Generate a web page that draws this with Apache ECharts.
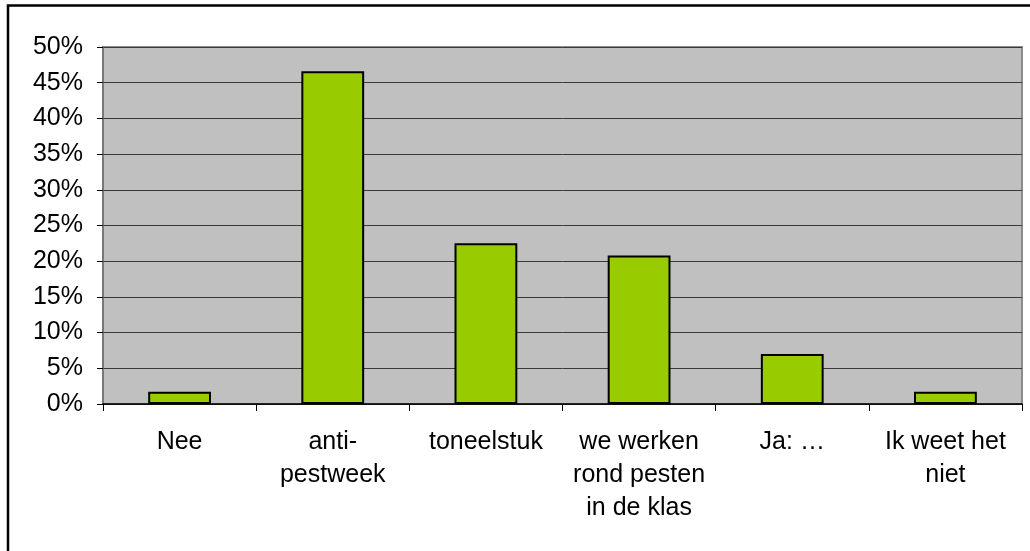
<!DOCTYPE html>
<html>
<head>
<meta charset="utf-8">
<script src="https://cdn.jsdelivr.net/npm/echarts@6/dist/echarts.min.js"></script>
<style>
  html, body { margin: 0; padding: 0; background: #fff; }
  #chart { width: 1030px; height: 551px; }
</style>
</head>
<body>
<div id="chart"></div>
<script>
var categories = ['Nee', 'anti-\npestweek', 'toneelstuk', 'we werken\nrond pesten\nin de klas', 'Ja: \u2026', 'Ik weet het\nniet'];
var values = [1.7, 46.6, 22.5, 20.8, 7.0, 1.7];
var yTicks = [0, 5, 10, 15, 20, 25, 30, 35, 40, 45, 50];

var myChart = echarts.init(document.getElementById('chart'));
var option = {
    animation: false,
    textStyle: { fontFamily: 'Liberation Sans, Arial, sans-serif' },
    // outer frame: only top and left edges are visible in the picture
    graphic: [{
        type: 'polyline',
        shape: { points: [[8, 551], [8, 5.5], [1030, 5.5]] },
        style: { fill: 'none', stroke: '#000', lineWidth: 2.5 },
        silent: true
    }],
    grid: {
        left: 103, right: 8, top: 47, bottom: 147,
        show: true,
        backgroundColor: '#c0c0c0',
        borderColor: '#8c8c8c',
        borderWidth: 2
    },
    xAxis: {
        type: 'category',
        data: categories,
        axisLine: { lineStyle: { color: '#000', width: 1.5 } },
        axisTick: { show: true, length: 7, lineStyle: { color: '#000' } },
        axisLabel: { color: '#000', fontSize: 25, lineHeight: 33, margin: 22, interval: 0 },
        splitLine: { show: false }
    },
    yAxis: {
        type: 'value',
        min: yTicks[0],
        max: yTicks[yTicks.length - 1],
        interval: 5,
        axisLine: { show: true, lineStyle: { color: '#707070', width: 1.5 } },
        axisTick: { show: true, length: 6, lineStyle: { color: '#000' } },
        axisLabel: { color: '#000', fontSize: 25, margin: 20, formatter: '{value}%' },
        splitLine: { lineStyle: { color: '#3a3a3a', width: 1 } }
    },
    series: [{
        type: 'bar',
        data: values,
        barWidth: '41%',
        itemStyle: { color: '#99cc00', borderColor: '#000', borderWidth: 2 }
    }]
};
myChart.setOption(option);
</script>
</body>
</html>
